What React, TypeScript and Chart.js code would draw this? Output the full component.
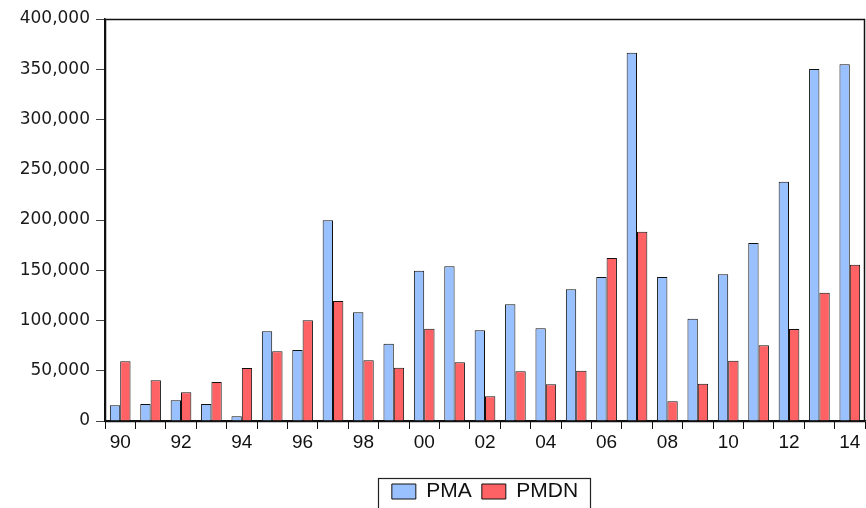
import React, { useEffect, useRef } from "react";
import { Chart, registerables } from "chart.js";

Chart.register(...registerables);

const categories = ["90","91","92","93","94","95","96","97","98","99","00","01","02","03","04","05","06","07","08","09","10","11","12","13","14"];
const pmaValues = [15600, 16900, 20600, 16900, 4700, 89200, 70600, 199700, 108200, 76900, 149600, 153900, 90200, 116100, 92200, 131000, 143300, 366500, 143300, 101800, 146000, 177100, 238100, 350200, 354900];
const pmdnValues = [59400, 40500, 28500, 38800, 52700, 69400, 100200, 119400, 60400, 53000, 91800, 58400, 24600, 49400, 36500, 50000, 162200, 188400, 19600, 37100, 60000, 75300, 91500, 127700, 155500];
const seriesNames = ["PMA", "PMDN"];
const yTicksMax = 400000;
const yTickStep = 50000;

const framePlugin = {
  id: "framePlugin",
  afterDraw(chart: any) {
    const { ctx, chartArea } = chart;
    ctx.save();
    ctx.strokeStyle = "#111";
    ctx.lineWidth = 1.5;
    ctx.strokeRect(chartArea.left + 0.5, chartArea.top + 0.5, chartArea.right - chartArea.left - 1, chartArea.bottom - chartArea.top);
    const lg = chart.legend;
    if (lg && lg.legendHitBoxes && lg.legendHitBoxes.length) {
      const hb = lg.legendHitBoxes;
      const first = hb[0];
      const last = hb[hb.length - 1];
      const left = first.left - 14;
      const right = last.left + last.width + 12;
      const top = first.top - 3;
      ctx.lineWidth = 1.2;
      ctx.strokeStyle = "#222";
      ctx.strokeRect(Math.round(left) + 0.5, Math.round(top) + 0.5, Math.round(right - left), 60);
    }
    ctx.restore();
  },
};

export default function App() {
  const ref = useRef<HTMLCanvasElement | null>(null);
  useEffect(() => {
    document.body.style.margin = "0";
    const canvas = ref.current!;
    const chart = new Chart(canvas, {
      type: "bar",
      data: {
        labels: categories,
        datasets: [
          {
            label: seriesNames[0],
            data: pmaValues,
            backgroundColor: "rgb(153,192,255)",
            borderColor: "#111",
            borderWidth: 1,
          },
          {
            label: seriesNames[1],
            data: pmdnValues,
            backgroundColor: "rgb(255,98,100)",
            borderColor: "#111",
            borderWidth: 1,
          },
        ],
      },
      options: {
        responsive: false,
        animation: false,
        datasets: { bar: { categoryPercentage: 0.68, barPercentage: 1.0 } },
        layout: { padding: { top: 19, right: 1, left: 0, bottom: -4 } },
        plugins: {
          tooltip: { enabled: false },
          legend: {
            position: "bottom",
            fullSize: false,
            labels: {
              boxWidth: 24,
              boxHeight: 15,
              padding: 10,
              color: "#111",
              font: { family: "'Liberation Sans', Arial, sans-serif", size: 21 },
            },
          },
        },
        scales: {
          x: {
            type: "category",
            offset: true,
            afterFit: (s: any) => { s.height = 50; },
            grid: { offset: true, drawOnChartArea: false, tickLength: 8, color: "#111", tickColor: "#111" },
            border: { display: true, color: "#111", width: 1.5 },
            ticks: {
              autoSkip: false,
              maxRotation: 0,
              padding: 2,
              color: "#111",
              font: { family: "'Liberation Sans', Arial, sans-serif", size: 19 },
              callback: (_v: any, i: number) => (i % 2 === 0 ? categories[i] : ""),
            },
          },
          y: {
            min: 0,
            max: yTicksMax,
            afterFit: (s: any) => { s.width = 105; },
            grid: { drawOnChartArea: false, tickLength: 9, color: "#444", tickColor: "#444" },
            border: { display: true, color: "#111", width: 1.5 },
            ticks: {
              stepSize: yTickStep,
              padding: 6,
              color: "#1a1a1a",
              font: { family: "'DejaVu Sans', sans-serif", size: 17 },
              callback: (v: any) => Number(v).toLocaleString("en-US"),
            },
          },
        },
      },
      plugins: [framePlugin],
    });
    return () => chart.destroy();
  }, []);
  return (
    <div style={{ position: "relative", width: 866, height: 508, overflow: "hidden", background: "#fff" }}>
      <canvas ref={ref} width={866} height={508} style={{ display: "block" }} />
    </div>
  );
}
